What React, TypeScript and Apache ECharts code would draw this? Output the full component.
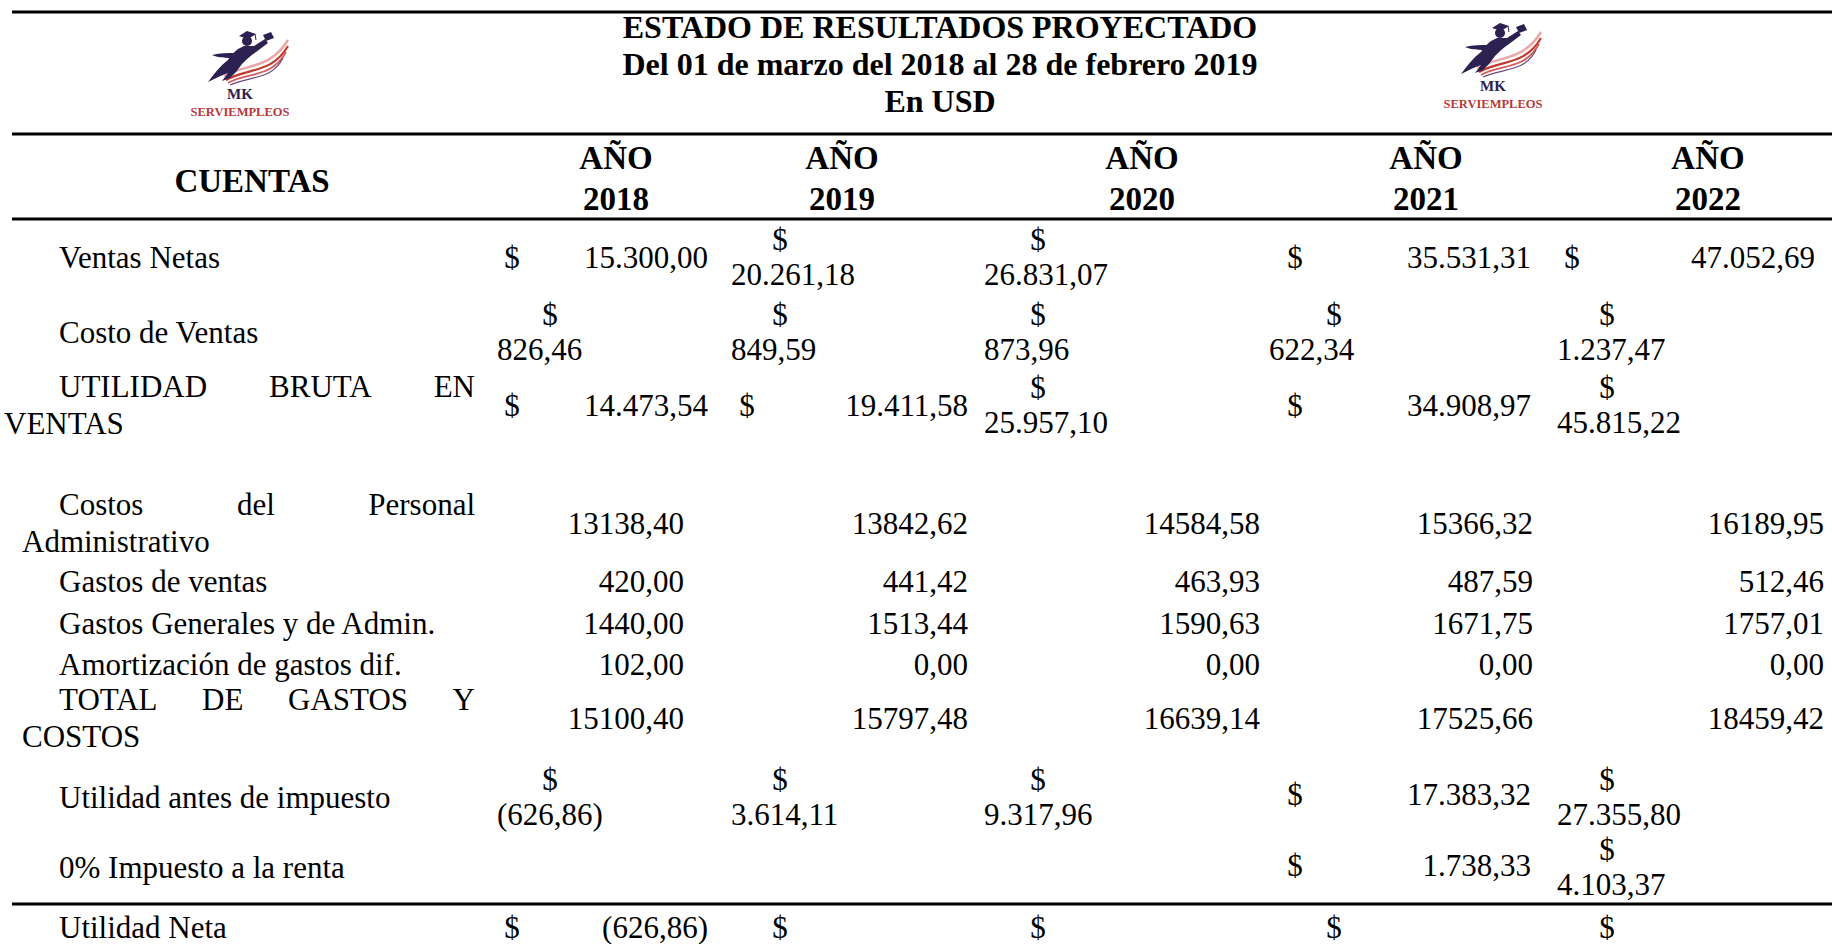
import React, { useEffect, useRef } from "react";
import * as echarts from "echarts";

// ---------- DATA ----------
const TITLE_LINES = [
  "ESTADO DE RESULTADOS PROYECTADO",
  "Del 01 de marzo del 2018 al 28 de febrero 2019",
  "En USD",
];
const HEADER_LABEL = "CUENTAS";
const YEAR_PREFIX = "AÑO";
const YEARS = ["2018", "2019", "2020", "2021", "2022"];
const ACCOUNTS = [
  "Ventas Netas",
  "Costo de Ventas",
  "UTILIDAD BRUTA EN VENTAS",
  "Costos del Personal Administrativo",
  "Gastos de ventas",
  "Gastos Generales y de Admin.",
  "Amortización de gastos dif.",
  "TOTAL DE GASTOS Y COSTOS",
  "Utilidad antes de impuesto",
  "0% Impuesto a la renta",
  "Utilidad Neta",
];
const VENTAS_NETAS = [15300.0, 20261.18, 26831.07, 35531.31, 47052.69];
const COSTO_VENTAS = [826.46, 849.59, 873.96, 622.34, 1237.47];
const UTILIDAD_BRUTA = [14473.54, 19411.58, 25957.1, 34908.97, 45815.22];
const COSTOS_PERSONAL = [13138.4, 13842.62, 14584.58, 15366.32, 16189.95];
const GASTOS_VENTAS = [420.0, 441.42, 463.93, 487.59, 512.46];
const GASTOS_GENERALES = [1440.0, 1513.44, 1590.63, 1671.75, 1757.01];
const AMORTIZACION = [102.0, 0.0, 0.0, 0.0, 0.0];
const TOTAL_GASTOS = [15100.4, 15797.48, 16639.14, 17525.66, 18459.42];
const UTILIDAD_ANTES = [-626.86, 3614.11, 9317.96, 17383.32, 27355.8];
const IMPUESTO_RENTA = [null, null, null, 1738.33, 4103.37];
const UTILIDAD_NETA = [-626.86, null, null, null, null];

const ROW_VALUES: (number | null)[][] = [
  VENTAS_NETAS,
  COSTO_VENTAS,
  UTILIDAD_BRUTA,
  COSTOS_PERSONAL,
  GASTOS_VENTAS,
  GASTOS_GENERALES,
  AMORTIZACION,
  TOTAL_GASTOS,
  UTILIDAD_ANTES,
  IMPUESTO_RENTA,
  UTILIDAD_NETA,
];

// ---------- LAYOUT / STYLE ----------
// cell formats: I = "$ value" on one line, S = "$" stacked over value,
// P = plain number, D = "$" only (value below the page), "" = empty
const ROW_FORMATS = [
  ["I", "S", "S", "I", "I"],
  ["S", "S", "S", "S", "S"],
  ["I", "I", "S", "I", "S"],
  ["P", "P", "P", "P", "P"],
  ["P", "P", "P", "P", "P"],
  ["P", "P", "P", "P", "P"],
  ["P", "P", "P", "P", "P"],
  ["P", "P", "P", "P", "P"],
  ["S", "S", "S", "I", "S"],
  ["", "", "", "I", "S"],
  ["I", "D", "D", "D", "D"],
];
const W = 1832;
const H = 944;
const ROW_Y = [257, 332, 405, 523, 581, 623, 664, 718, 797, 867, 927];
const INLINE_DY = [0, 0, 0, 0, 0, 0, 0, 0, -3, -2, 0];
const STACK_HALF = 17.5;
const LABEL_HALF = 18.5;
const LABEL_LEFT = 59;
const LABEL_CONT_LEFT = [20, 20, 4, 22, 20, 20, 20, 22, 20, 20, 20];
const LABEL_RIGHT = 475;
const COLS = [
  { left: 497, right: 708, plainRight: 684, dIn: 512, dSt: 550, head: 616 },
  { left: 731, right: 968, plainRight: 968, dIn: 747, dSt: 780, head: 842 },
  { left: 984, right: 1118, plainRight: 1260, dIn: 1000, dSt: 1038, head: 1142 },
  { left: 1269, right: 1531, plainRight: 1533, dIn: 1295, dSt: 1334, head: 1426 },
  { left: 1557, right: 1815, plainRight: 1824, dIn: 1572, dSt: 1607, head: 1708 },
];
const TITLE_X = 940;
const TITLE_Y = [27, 64, 101];
const HEAD_Y1 = 158;
const HEAD_Y2 = 199;
const HEAD_LABEL_X = 252;
const HEAD_LABEL_Y = 181;
const RULES_Y = [12, 134, 219, 904];
const FAMILY = "'Liberation Serif', 'Times New Roman', serif";
const BODY_FONT = `31px ${FAMILY}`;
const HEAD_FONT = `bold 33px ${FAMILY}`;
const TITLE_FONT = `bold 32px ${FAMILY}`;

function fmtDollar(v: number): string {
  const a = Math.abs(v);
  const [i, d] = a.toFixed(2).split(".");
  const s = i.replace(/\B(?=(\d{3})+(?!\d))/g, ".") + "," + d;
  return v < 0 ? `(${s})` : s;
}
function fmtPlain(v: number): string {
  return v.toFixed(2).replace(".", ",");
}

type TextItem = { text: string; x: number; y: number; font: string; align: string };

function buildTexts(): TextItem[] {
  const canvas = document.createElement("canvas");
  const ctx = canvas.getContext("2d")!;
  const measure = (s: string, font: string) => {
    ctx.font = font;
    return ctx.measureText(s).width;
  };
  const out: TextItem[] = [];
  TITLE_LINES.forEach((t, i) =>
    out.push({ text: t, x: TITLE_X, y: TITLE_Y[i], font: TITLE_FONT, align: "center" })
  );
  out.push({ text: HEADER_LABEL, x: HEAD_LABEL_X, y: HEAD_LABEL_Y, font: HEAD_FONT, align: "center" });
  YEARS.forEach((y, j) => {
    out.push({ text: YEAR_PREFIX, x: COLS[j].head, y: HEAD_Y1, font: HEAD_FONT, align: "center" });
    out.push({ text: y, x: COLS[j].head, y: HEAD_Y2, font: HEAD_FONT, align: "center" });
  });
  ACCOUNTS.forEach((label, i) => {
    const words = label.split(" ");
    const space = measure(" ", BODY_FONT);
    const avail = LABEL_RIGHT - LABEL_LEFT;
    const first: string[] = [];
    let wsum = 0;
    let k = 0;
    for (; k < words.length; k++) {
      const w = measure(words[k], BODY_FONT);
      const next = wsum + (first.length ? space : 0) + w;
      if (next > avail && first.length) break;
      first.push(words[k]);
      wsum = next;
    }
    const rest = words.slice(k);
    const cy = ROW_Y[i];
    if (!rest.length) {
      out.push({ text: label, x: LABEL_LEFT, y: cy, font: BODY_FONT, align: "left" });
    } else {
      const ws = first.map((w) => measure(w, BODY_FONT));
      const tot = ws.reduce((a, b) => a + b, 0);
      const gap = first.length > 1 ? (avail - tot) / (first.length - 1) : 0;
      let x = LABEL_LEFT;
      first.forEach((w, m) => {
        out.push({ text: w, x, y: cy - LABEL_HALF, font: BODY_FONT, align: "left" });
        x += ws[m] + gap;
      });
      out.push({ text: rest.join(" "), x: LABEL_CONT_LEFT[i], y: cy + LABEL_HALF, font: BODY_FONT, align: "left" });
    }
  });
  ROW_VALUES.forEach((vals, i) => {
    const cy = ROW_Y[i];
    vals.forEach((v, j) => {
      const f = ROW_FORMATS[i][j];
      const c = COLS[j];
      if (f === "I" && v != null) {
        const y = cy + INLINE_DY[i];
        out.push({ text: "$", x: c.dIn, y, font: BODY_FONT, align: "center" });
        out.push({ text: fmtDollar(v), x: c.right, y, font: BODY_FONT, align: "right" });
      } else if (f === "S" && v != null) {
        out.push({ text: "$", x: c.dSt, y: cy - STACK_HALF, font: BODY_FONT, align: "center" });
        out.push({ text: fmtDollar(v), x: c.left, y: cy + STACK_HALF, font: BODY_FONT, align: "left" });
      } else if (f === "P" && v != null) {
        out.push({ text: fmtPlain(v), x: c.plainRight, y: cy, font: BODY_FONT, align: "right" });
      } else if (f === "D") {
        out.push({ text: "$", x: c.dSt, y: cy, font: BODY_FONT, align: "center" });
      }
    });
  });
  return out;
}

// runner silhouette of the MK SERVIEMPLEOS logo (local coords, MK centred at x=56)
const RUNNER_PATH =
  "M24 62 C30 54 36 46 44 40 C46 36 50 32 54 29 L60 26 L70 26 L81 19 L84 23 L72 32 C66 36 62 40 58 44 L52 52 L46 58 L38 61 L44 53 C38 55 32 58 24 62 Z " +
  "M28 35 C36 33 44 33 52 33 L50 38 C42 38 35 38 28 35 Z";
echarts.graphic.registerShape("mkRunner", (echarts.graphic as any).extendPath(RUNNER_PATH, {}));

function logo(x: number, y: number) {
  const navy = "#2d2152";
  return {
    type: "group",
    x,
    y,
    children: [
      { type: "bezierCurve", shape: { x1: 40, y1: 56, cpx1: 60, cpy1: 44, cpx2: 86, cpy2: 50, x2: 104, y2: 20 }, style: { stroke: "#e9a9a9", lineWidth: 2.5, fill: null } },
      { type: "bezierCurve", shape: { x1: 42, y1: 60, cpx1: 62, cpy1: 48, cpx2: 88, cpy2: 54, x2: 104, y2: 26 }, style: { stroke: "#c0392b", lineWidth: 2.2, fill: null } },
      { type: "bezierCurve", shape: { x1: 44, y1: 63, cpx1: 64, cpy1: 52, cpx2: 88, cpy2: 58, x2: 102, y2: 32 }, style: { stroke: "#d65c5c", lineWidth: 1.8, fill: null } },
      { type: "bezierCurve", shape: { x1: 46, y1: 65, cpx1: 66, cpy1: 56, cpx2: 88, cpy2: 60, x2: 99, y2: 38 }, style: { stroke: "#6b4a7a", lineWidth: 1.2, fill: null } },
      { type: "mkRunner", x: 0, y: 0, style: { fill: navy } },
      { type: "circle", shape: { cx: 63, cy: 21, r: 5 }, style: { fill: navy } },
      { type: "polygon", shape: { points: [[55, 16], [63, 11], [72, 14], [64, 19]] }, style: { fill: navy } },
      { type: "line", shape: { x1: 71, y1: 14, x2: 72, y2: 20 }, style: { stroke: navy, lineWidth: 1 } },
      { type: "polygon", shape: { points: [[79, 15], [87, 12], [90, 18], [82, 21]] }, style: { fill: navy } },
      { type: "text", x: 56, y: 74, style: { text: "MK", font: `bold 15px ${FAMILY}`, fill: navy, align: "center", verticalAlign: "middle" } },
      { type: "text", x: 56, y: 92, style: { text: "SERVIEMPLEOS", font: `bold 12.5px ${FAMILY}`, fill: "#b8393a", align: "center", verticalAlign: "middle" } },
    ],
  };
}

export default function App() {
  const ref = useRef<HTMLDivElement>(null);
  useEffect(() => {
    document.body.style.margin = "0";
    document.body.style.overflow = "hidden";
    if (!ref.current) return;
    const chart = echarts.init(ref.current, undefined, { renderer: "svg" });
    const texts = buildTexts();
    chart.setOption({
      animation: false,
      backgroundColor: "#ffffff",
      grid: { left: 0, right: 0, top: 0, bottom: 0 },
      xAxis: { type: "value", min: 0, max: W, show: false },
      yAxis: { type: "value", min: 0, max: H, inverse: true, show: false },
      graphic: [
        ...RULES_Y.map((y) => ({
          type: "line",
          shape: { x1: 12, y1: y, x2: W, y2: y },
          style: { stroke: "#000", lineWidth: 2.8 },
        })),
        logo(184, 20),
        logo(1437, 12),
      ],
      series: [
        {
          type: "custom",
          coordinateSystem: "cartesian2d",
          data: texts.map((t) => [t.x, t.y]),
          renderItem: (params: any, api: any) => {
            const t = texts[params.dataIndex];
            const p = api.coord([api.value(0), api.value(1)]);
            return {
              type: "text",
              x: p[0],
              y: p[1],
              style: {
                text: t.text,
                font: t.font,
                fill: "#000",
                align: t.align,
                verticalAlign: "middle",
              },
            };
          },
        },
      ],
    });
    return () => chart.dispose();
  }, []);
  return <div ref={ref} style={{ width: W, height: H }} />;
}
